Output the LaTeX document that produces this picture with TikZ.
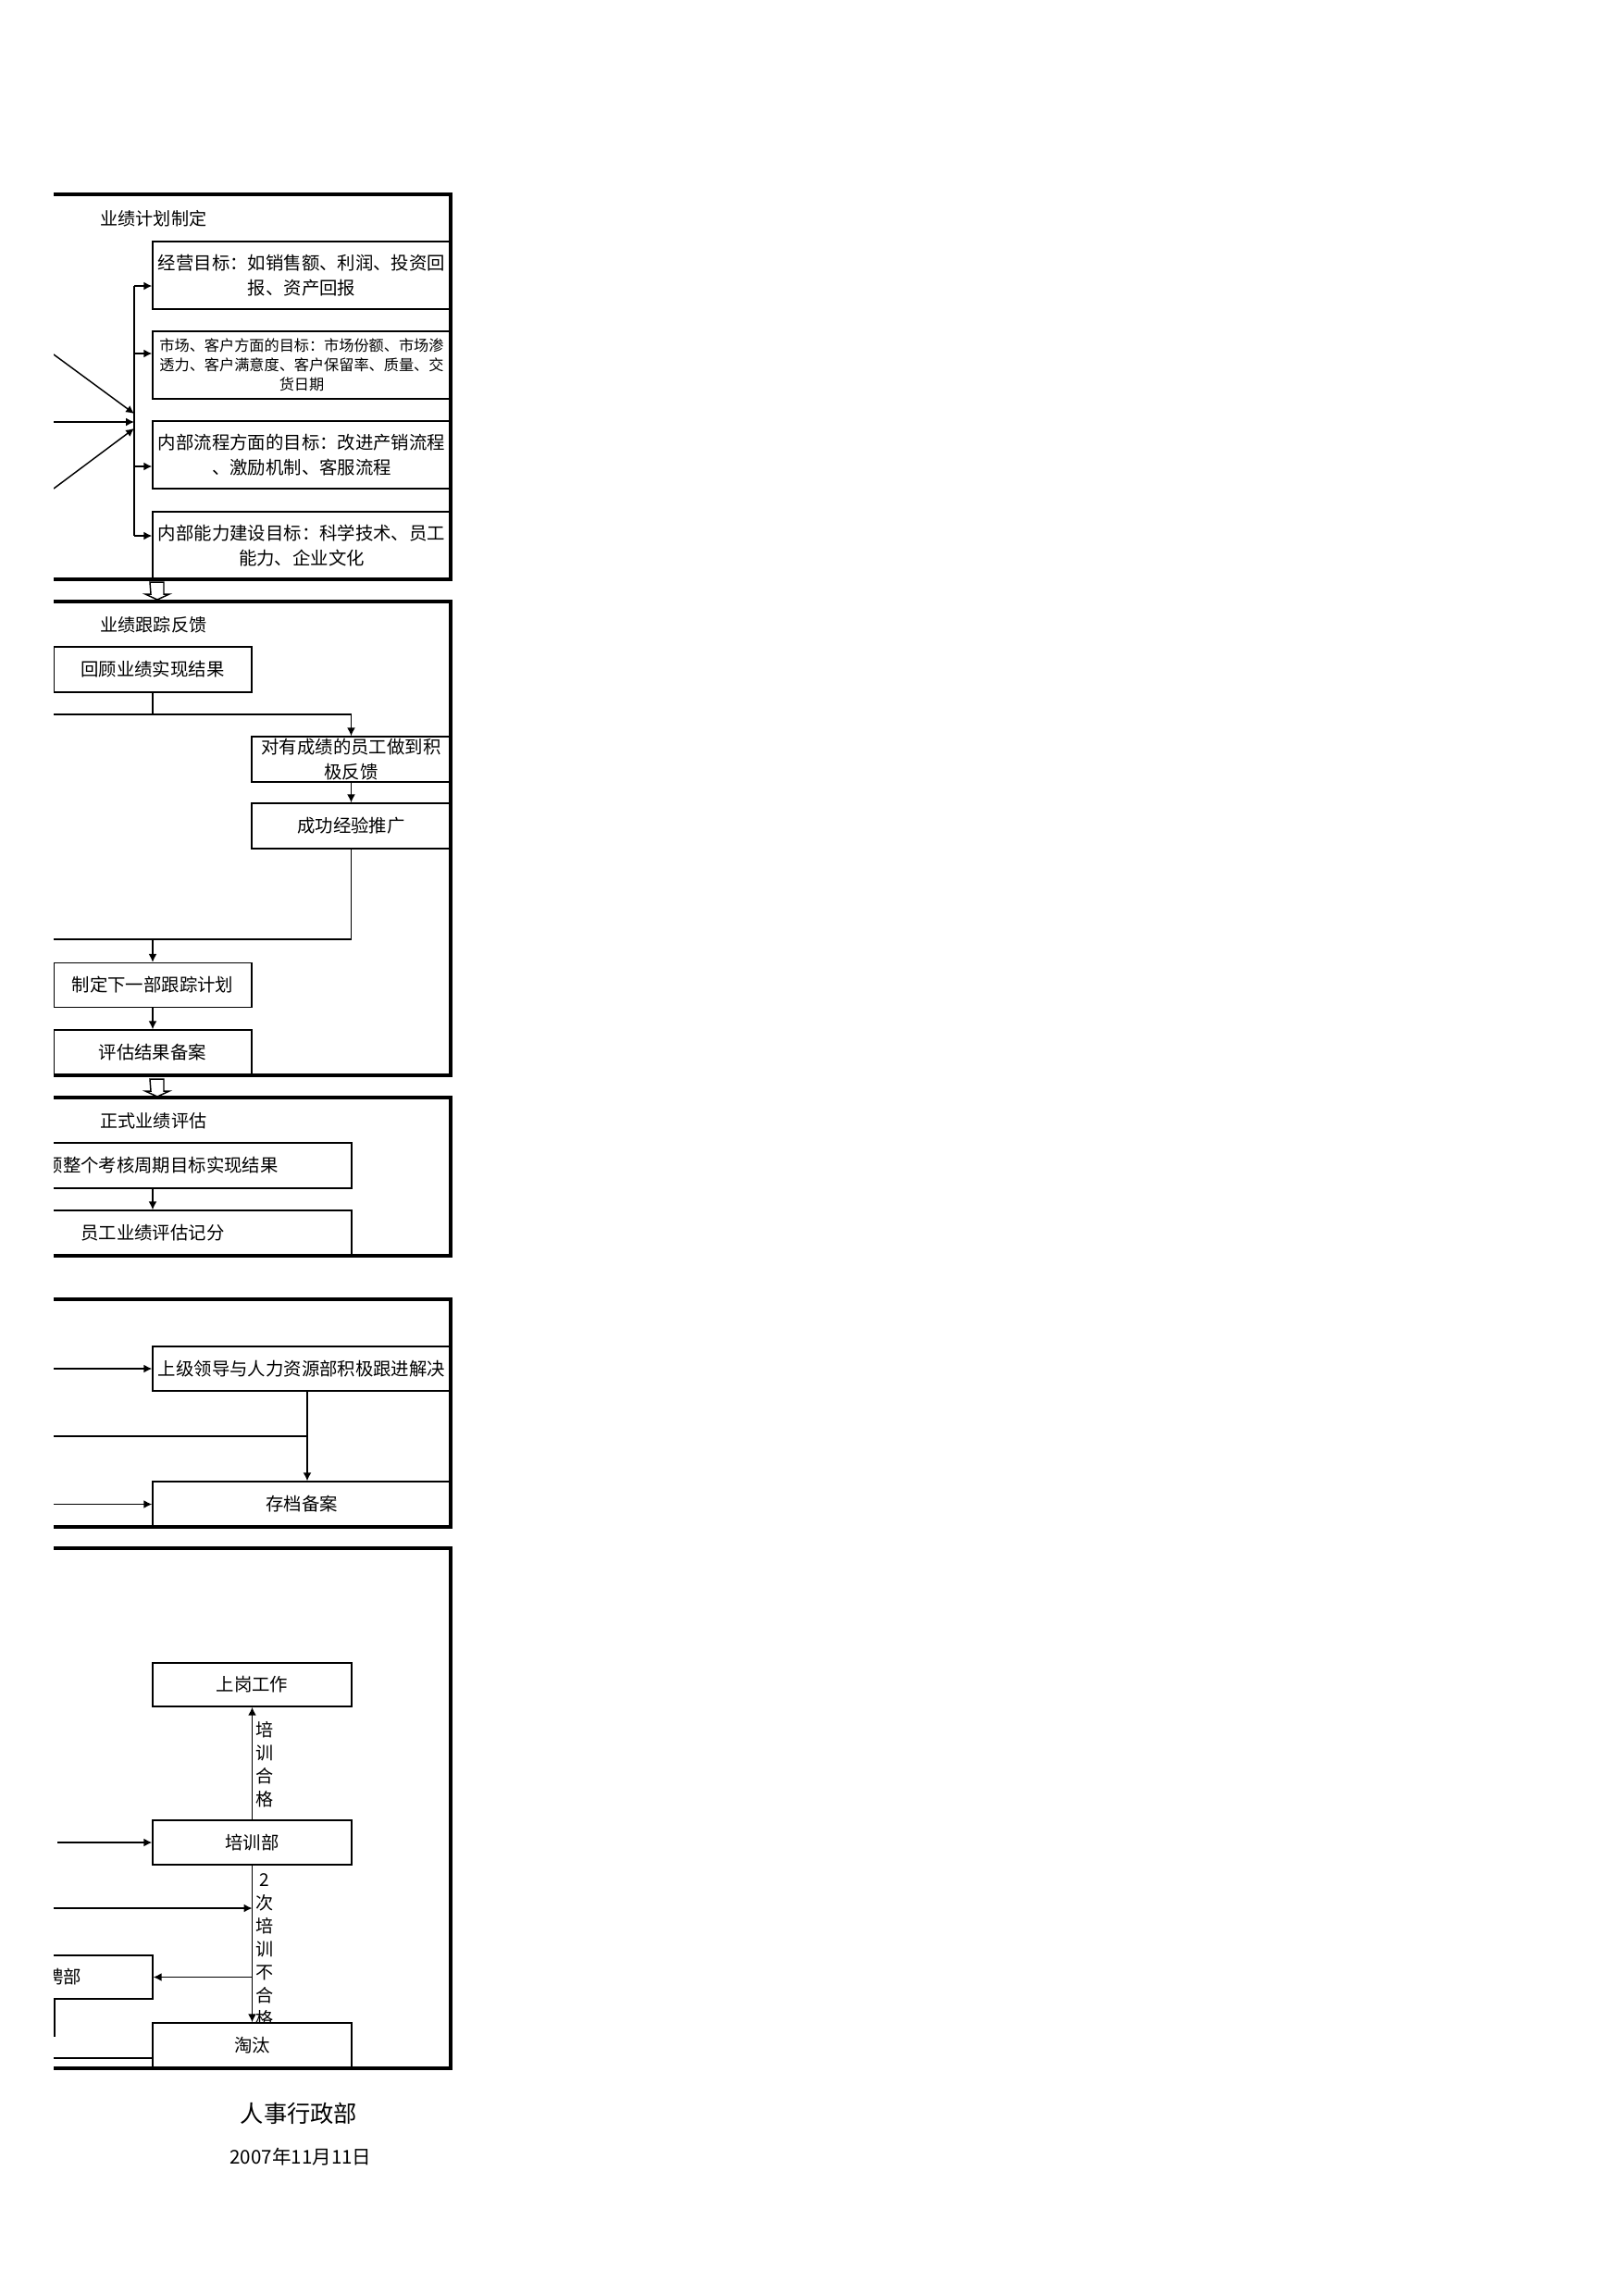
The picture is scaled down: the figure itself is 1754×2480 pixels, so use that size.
\documentclass[tikz,border=0pt]{standalone}
\usepackage{fontspec}
\setmainfont{Noto Sans CJK SC}
\usepackage{tikz}
\usetikzlibrary{arrows.meta}
\newdimen\pxlen \pxlen=0.01197cm

\begin{document}
\begin{tikzpicture}[>={Latex[length=3pt,width=3pt]}, x=0.01197cm, y=-0.01197cm,
	box/.style 2 args={draw, line width=0.5pt, fill=white, inner sep=0pt, align=center,
		minimum width=#1\pxlen, minimum height=#2\pxlen, font=\fontsize{6.6}{9}\selectfont},
	frame/.style={line width=1.2pt},
	link/.style={line width=0.5pt},
	title/.style={font=\fontsize{6.5}{8}\selectfont},
	vlabel/.style={align=center, inner sep=0pt, font=\fontsize{6.5}{8.5}\selectfont}]
	\useasboundingbox (0,0) rectangle (1754,2480);
	\begin{scope}
	\clip (58,0) rectangle (1754,2480);
	%Piano
	\node [title] (t1) at (166,236) {业绩计划制定};
	\node [box={322}{73}] (b1) at (326,297.5) {经营目标：如销售额、利润、投资回\\报、资产回报};
	\node [box={322}{73}, font=\fontsize{5.5}{7.2}\selectfont] (b2) at (326,394.5) {市场、客户方面的目标：市场份额、市场渗\\透力、客户满意度、客户保留率、质量、交\\货日期};
	\node [box={322}{73}] (b3) at (326,491.5) {内部流程方面的目标：改进产销流程\\、激励机制、客服流程};
	\node [box={322}{73}] (b4) at (326,589.5) {内部能力建设目标：科学技术、员工\\能力、企业文化};
	\coordinate (tr1) at (145,309);
	\coordinate (tr2) at (145,382);
	\coordinate (tr3) at (145,504);
	\coordinate (tr4) at (145,579);
	\draw [link] (tr1) -- (tr4);
	\draw [link,->] (tr1) -- (tr1 -| b1.west);
	\draw [link,->] (tr2) -- (tr2 -| b2.west);
	\draw [link,->] (tr3) -- (tr3 -| b3.west);
	\draw [link,->] (tr4) -- (tr4 -| b4.west);
	\coordinate (in1) at (58,383);
	\coordinate (in2) at (40,456);
	\coordinate (in3) at (58,528);
	\draw [link,->] (in1) -- (145,447);
	\draw [link,->] (in2) -- (145,456);
	\draw [link,->] (in3) -- (145,463);
	\draw [frame] (-100,210) rectangle (487,626);
	%Seguito
	\node [title] (t2) at (166,675) {业绩跟踪反馈};
	\node [box={214}{49}] (r1) at (165,723.5) {回顾业绩实现结果};
	\node [box={215}{49}] (r2) at (379.5,820.5) {对有成绩的员工做到积\\极反馈};
	\node [box={215}{49}] (r3) at (379.5,892.5) {成功经验推广};
	\node [box={214}{48}] (r4) at (165,1064.5) {制定下一部跟踪计划};
	\node [box={214}{49}] (r5) at (165,1137.5) {评估结果备案};
	\coordinate (s1) at (40,772);
	\coordinate (s2) at (40,1015);
	\draw [link] (r1.south) -- (r1.south |- s1);
	\draw [link] (s1) -- (s1 -| r2.north);
	\draw [link,->] (s1 -| r2.north) -- (r2.north);
	\draw [link,->] (r2.south) -- (r3.north);
	\draw [link] (r3.south) -- (s2 -| r3.south) -- (s2);
	\draw [link,->] (s2 -| r4.north) -- (r4.north);
	\draw [link,->] (r4.south) -- (r5.north);
	\draw [frame] (-100,650) rectangle (487,1162);
	%Valutazione
	\node [title] (t3) at (166,1211) {正式业绩评估};
	\node [box={430}{49}] (e1) at (165,1259.5) {回顾整个考核周期目标实现结果};
	\node [box={430}{49}] (e2) at (165,1332.5) {员工业绩评估记分};
	\draw [link,->] (e1.south) -- (e2.north);
	\draw [frame] (-100,1186) rectangle (487,1357);
	%Reclami
	\node [box={322}{48}] (f1) at (326,1479) {上级领导与人力资源部积极跟进解决};
	\node [box={322}{49}] (f2) at (326,1625.5) {存档备案};
	\path ([xshift=6\pxlen]f1.south) coordinate (fv1);
	\coordinate (fin1) at (40,1479);
	\coordinate (fin2) at (40,1552);
	\coordinate (fin3) at (40,1625.5);
	\draw [link,->] (fin1) -- (f1.west);
	\draw [link,->] (fv1) -- (fv1 |- f2.north);
	\draw [link] (fin2) -- (fin2 -| fv1);
	\draw [link,->] (fin3) -- (f2.west);
	\draw [frame] (-100,1404) rectangle (487,1650);
	%Formazione
	\node [vlabel] (l1) at (286,1906.5) {培\\训\\合\\格};
	\node [vlabel] (l2) at (286,2107.5) {2\\次\\培\\训\\不\\合\\格};
	\node [box={215}{47}] (g1) at (272.5,1820.5) {上岗工作};
	\node [box={215}{48}] (g2) at (272.5,1991) {培训部};
	\node [box={212}{47}] (g3) at (59,2136.5) {招聘部};
	\node [box={215}{49}] (g4) at (272.5,2210.5) {淘汰};
	\coordinate (gin1) at (62,1991);
	\coordinate (gin2) at (40,2062);
	\coordinate (gin3) at (40,2224);
	\draw [link,->] (g2.north) -- (g1.south);
	\draw [link,->] (g2.south) -- (g4.north);
	\draw [link,->] (gin1) -- (g2.west);
	\draw [link,->] (gin2) -- (gin2 -| g2.south);
	\draw [link,->] (g3.east -| g2.south) -- (g3.east);
	\draw [link] (g3.south) -- ++(0,40);
	\draw [link] (gin3) -- (gin3 -| g4.west);
	\draw [frame] (-100,1673) rectangle (487,2235);
	\end{scope}
	%Frecce
	\foreach \y in {629,1166}
		\draw [link, fill=white] (162,\y) -- ++(15,0) -- ++(0,13) -- ++(6,0) -- ++(-13,6) -- ++(-13,-6) -- ++(6,0) -- cycle;
	%Firma
	\node [font=\fontsize{8.6}{10}\selectfont] (sig) at (323,2284) {人事行政部};
	\node [font=\fontsize{7}{9}\selectfont] (date) at (325,2331) {2007年11月11日};
\end{tikzpicture}
\end{document}
